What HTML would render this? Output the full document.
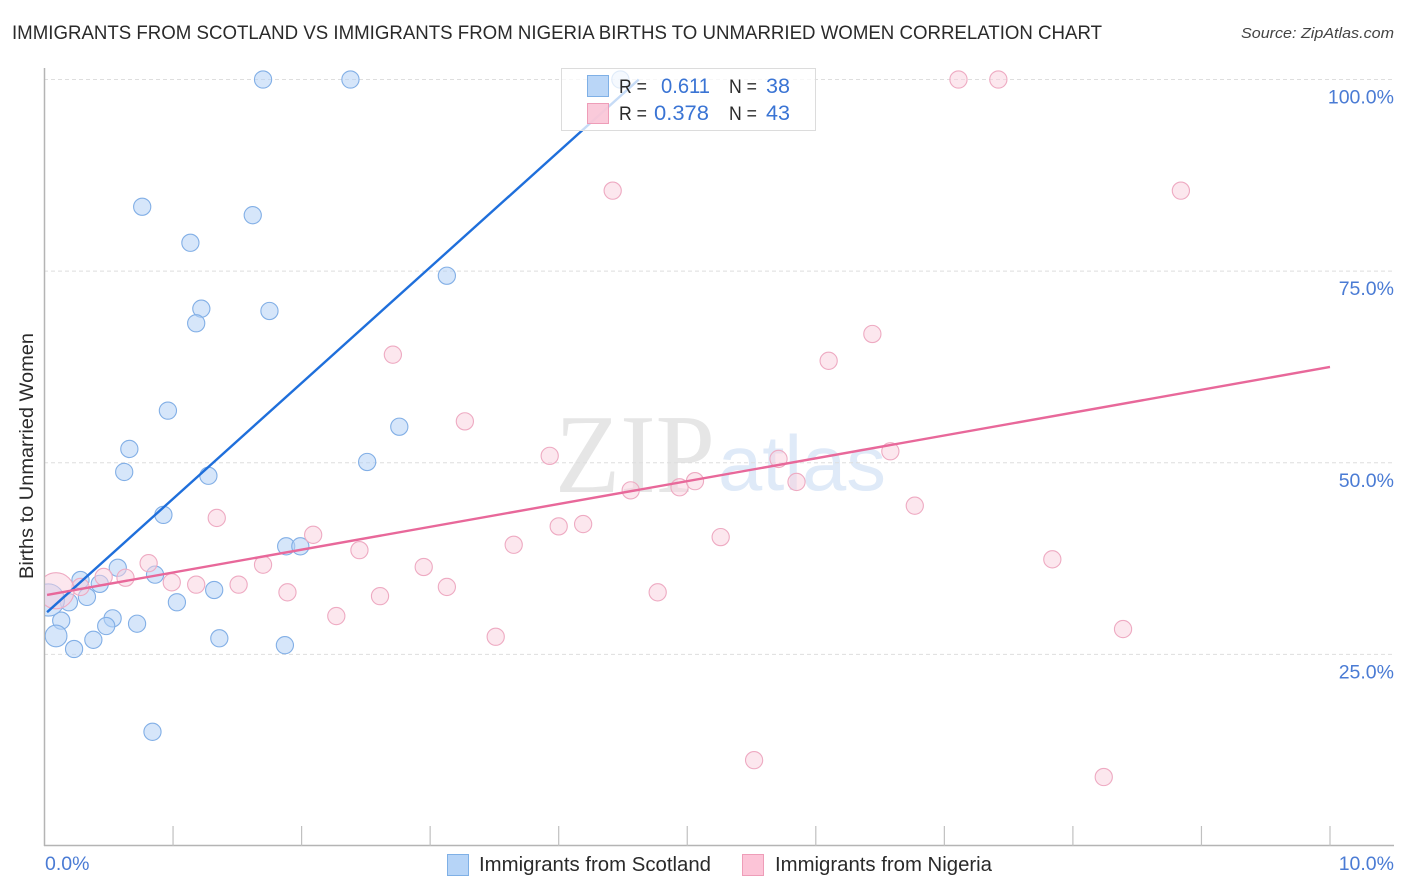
<!DOCTYPE html>
<html>
<head>
<meta charset="utf-8">
<title>Immigrants from Scotland vs Immigrants from Nigeria Births to Unmarried Women Correlation Chart</title>
<style>
html,body{margin:0;padding:0;background:#fff;width:1406px;height:892px;overflow:hidden}
svg{display:block;font-family:"Liberation Sans",sans-serif}
</style>
</head>
<body>
<svg id="chart" width="1406" height="892" viewBox="0 0 1406 892" xmlns="http://www.w3.org/2000/svg">
  <defs>
    <clipPath id="plot-clip"><rect x="45" y="60" width="1361" height="790"/></clipPath>
  </defs>
  <text x="12" y="39" font-size="19" fill="#2a2a2a" textLength="1090" lengthAdjust="spacingAndGlyphs">IMMIGRANTS FROM SCOTLAND VS IMMIGRANTS FROM NIGERIA BIRTHS TO UNMARRIED WOMEN CORRELATION CHART</text>
  <text x="1394" y="38" font-size="15" font-style="italic" fill="#444" text-anchor="end" textLength="153" lengthAdjust="spacingAndGlyphs">Source: ZipAtlas.com</text>

  <g>
    <text x="555" y="492" font-family="'Liberation Serif',serif" font-size="112" fill="#e6e6e6" textLength="160" lengthAdjust="spacingAndGlyphs">ZIP</text>
    <text x="718" y="490" font-family="'Liberation Sans',sans-serif" font-size="78" fill="#dfeaf8" textLength="168" lengthAdjust="spacingAndGlyphs">atlas</text>
  </g>

  <g id="grid"></g>
  <g id="axes"></g>
  <g id="points-scotland" clip-path="url(#plot-clip)"></g>
  <g id="points-nigeria" clip-path="url(#plot-clip)"></g>
  <g id="trends"></g>

  <g>
    <rect x="561.5" y="68.5" width="254" height="62" fill="#fff" fill-opacity="0.75" stroke="#dcdcdc" stroke-width="1"/>
    <rect x="587.5" y="75.5" width="21" height="21" fill="#b6d4f7" fill-opacity="0.95" stroke="#7fb0e6"/>
    <rect x="587.5" y="103.5" width="21" height="20" fill="#f9c4d6" fill-opacity="0.9" stroke="#ee9db8"/>
    <text x="619" y="93" font-size="19.5" fill="#2a2a2a" textLength="28" lengthAdjust="spacingAndGlyphs">R =</text>
    <text x="661" y="93" font-size="21" fill="#3a74d4" textLength="49" lengthAdjust="spacingAndGlyphs">0.611</text>
    <text x="729" y="93" font-size="19.5" fill="#2a2a2a" textLength="28" lengthAdjust="spacingAndGlyphs">N =</text>
    <text x="766" y="93" font-size="21" fill="#3a74d4" textLength="24" lengthAdjust="spacingAndGlyphs">38</text>
    <text x="619" y="120" font-size="19.5" fill="#2a2a2a" textLength="28" lengthAdjust="spacingAndGlyphs">R =</text>
    <text x="654" y="120" font-size="21" fill="#3a74d4" textLength="55" lengthAdjust="spacingAndGlyphs">0.378</text>
    <text x="729" y="120" font-size="19.5" fill="#2a2a2a" textLength="28" lengthAdjust="spacingAndGlyphs">N =</text>
    <text x="766" y="120" font-size="21" fill="#3a74d4" textLength="24" lengthAdjust="spacingAndGlyphs">43</text>
  </g>

  <text transform="translate(33,456) rotate(-90)" font-size="19" fill="#2a2a2a" text-anchor="middle" textLength="246" lengthAdjust="spacingAndGlyphs">Births to Unmarried Women</text>

  <g>
    <g>
      <rect x="447.5" y="854.5" width="21" height="21" fill="#b6d4f7" stroke="#7fb0e6"/>
      <text x="479" y="871" font-size="20" fill="#2a2a2a" textLength="232" lengthAdjust="spacingAndGlyphs">Immigrants from Scotland</text>
    </g>
    <g>
      <rect x="742.5" y="854.5" width="21" height="21" fill="#fcc4d7" stroke="#ee9db8"/>
      <text x="775" y="871" font-size="20" fill="#2a2a2a" textLength="217" lengthAdjust="spacingAndGlyphs">Immigrants from Nigeria</text>
    </g>
  </g>
</svg>
<script>
var scotlandX = [1.70,2.38,4.48,0.76,1.62,1.135,1.22,1.18,1.75,3.13,0.96,2.76,0.66,0.62,1.275,2.51,0.925,1.88,1.99,0.57,0.86,0.28,0.43,0.33,1.32,1.03,0.19,0.53,0.48,0.72,0.13,0.09,0.38,0.23,1.36,1.87,0.84,0.03];
var scotlandY = [100,100,100,83.4,82.3,78.7,70.1,68.2,69.8,74.4,56.8,54.7,51.8,48.8,48.3,50.1,43.2,39.1,39.1,36.3,35.4,34.7,34.2,32.5,33.4,31.8,31.8,29.7,28.7,29.0,29.4,27.4,26.9,25.7,27.1,26.2,14.9,32.1];
var scotlandWeight = [1,1,1,1,1,1,1,1,1,1,1,1,1,1,1,1,1,1,1,1,1,1,1,1,1,1,1,1,1,1,1,1.6,1,1,1,1,1,3.5];
var nigeriaX = [7.11,7.42,4.42,8.84,6.44,2.71,6.10,3.27,3.93,5.71,6.58,4.56,4.94,5.06,5.85,1.34,6.77,4.00,4.19,5.26,2.09,3.65,2.45,0.81,1.70,2.95,7.84,0.46,0.63,0.99,1.18,1.51,3.13,4.77,1.89,2.61,0.28,2.27,3.51,8.39,5.52,8.24,0.09];
var nigeriaY = [100,100,85.5,85.5,66.8,64.1,63.3,55.4,50.9,50.5,51.5,46.4,46.8,47.6,47.5,42.8,44.4,41.7,42.0,40.3,40.6,39.3,38.6,36.9,36.7,36.4,37.4,35.1,35.0,34.4,34.1,34.1,33.8,33.1,33.1,32.6,33.8,30.0,27.3,28.3,11.2,9.0,33.3];
var nigeriaWeight = [1,1,1,1,1,1,1,1,1,1,1,1,1,1,1,1,1,1,1,1,1,1,1,1,1,1,1,1,1,1,1,1,1,1,1,1,1,1,1,1,1,1,4.4];
var scotlandTrend = [30.2, 15.1];
var nigeriaTrend = [32.7, 2.98];
var xTicks = [0,1,2,3,4,5,6,7,8,9,10];
var yTicks = [25,50,75,100];
var yTickLabels = ["25.0%","50.0%","75.0%","100.0%"];
var xEndLabels = ["0.0%","10.0%"];

var NS = "http://www.w3.org/2000/svg";
function sx(v){ return 44.5 + v * 128.55; }
function sy(v){ return 846 - v * 7.665; }
function radius(w){ return 8.6 * Math.sqrt(w); }
function make(tag, attrs, parent){
  var el = document.createElementNS(NS, tag);
  for (var k in attrs) el.setAttribute(k, attrs[k]);
  parent.appendChild(el);
  return el;
}

var gridG = document.getElementById("grid");
var axesG = document.getElementById("axes");

yTicks.forEach(function(t, i){
  var g = make("line", {x1:44, x2:1394, y1:sy(t), y2:sy(t), stroke:"#dedede", "stroke-width":1, "stroke-dasharray":"4 3"}, gridG);
  
  
  var lab = make("text", {x:1394, y:sy(t)+24, "font-size":19.5, fill:"#4a7bd4", "text-anchor":"end"}, axesG);
  lab.textContent = yTickLabels[i];
  
  
});

var yAxis = make("line", {x1:44.5, x2:44.5, y1:68, y2:846, stroke:"#b4b4b4", "stroke-width":1.5}, axesG);


var xAxis = make("line", {x1:44, x2:1394, y1:845.5, y2:845.5, stroke:"#b4b4b4", "stroke-width":1.5}, axesG);



xTicks.forEach(function(t){
  if (t === 0) return;
  var tk = make("line", {x1:sx(t), x2:sx(t), y1:826, y2:846, stroke:"#c0c0c0", "stroke-width":1.2}, axesG);
  
  
});

var xl0 = make("text", {x:45, y:870, "font-size":19.5, fill:"#4a7bd4"}, axesG);
xl0.textContent = xEndLabels[0];


var xl1 = make("text", {x:1394, y:870, "font-size":19.5, fill:"#4a7bd4", "text-anchor":"end"}, axesG);
xl1.textContent = xEndLabels[1];



var blueG = document.getElementById("points-scotland");
scotlandX.forEach(function(x, i){
  var c = make("circle", {cx:sx(x), cy:sy(scotlandY[i]), r:radius(scotlandWeight[i]), fill:"#b5d2f5", "fill-opacity":0.55, stroke:"#82afe6", "stroke-width":1.1}, blueG);
  
  
});

var pinkG = document.getElementById("points-nigeria");
nigeriaX.forEach(function(x, i){
  var c = make("circle", {cx:sx(x), cy:sy(nigeriaY[i]), r:radius(nigeriaWeight[i]), fill:"#fad0de", "fill-opacity":0.5, stroke:"#eeaac2", "stroke-width":1.1}, pinkG);
  
  
});

var trendG = document.getElementById("trends");
var xStart = 0.02;
var blueEnd = (100 - scotlandTrend[0]) / scotlandTrend[1];
var tb = make("line", {x1:sx(xStart), y1:sy(scotlandTrend[0]+scotlandTrend[1]*xStart), x2:sx(blueEnd), y2:sy(scotlandTrend[0]+scotlandTrend[1]*blueEnd), stroke:"#1f6fdb", "stroke-width":2.4}, trendG);


var tp = make("line", {x1:sx(xStart), y1:sy(nigeriaTrend[0]+nigeriaTrend[1]*xStart), x2:sx(10), y2:sy(nigeriaTrend[0]+nigeriaTrend[1]*10), stroke:"#e8689a", "stroke-width":2.4}, trendG);


</script>
</body>
</html>
